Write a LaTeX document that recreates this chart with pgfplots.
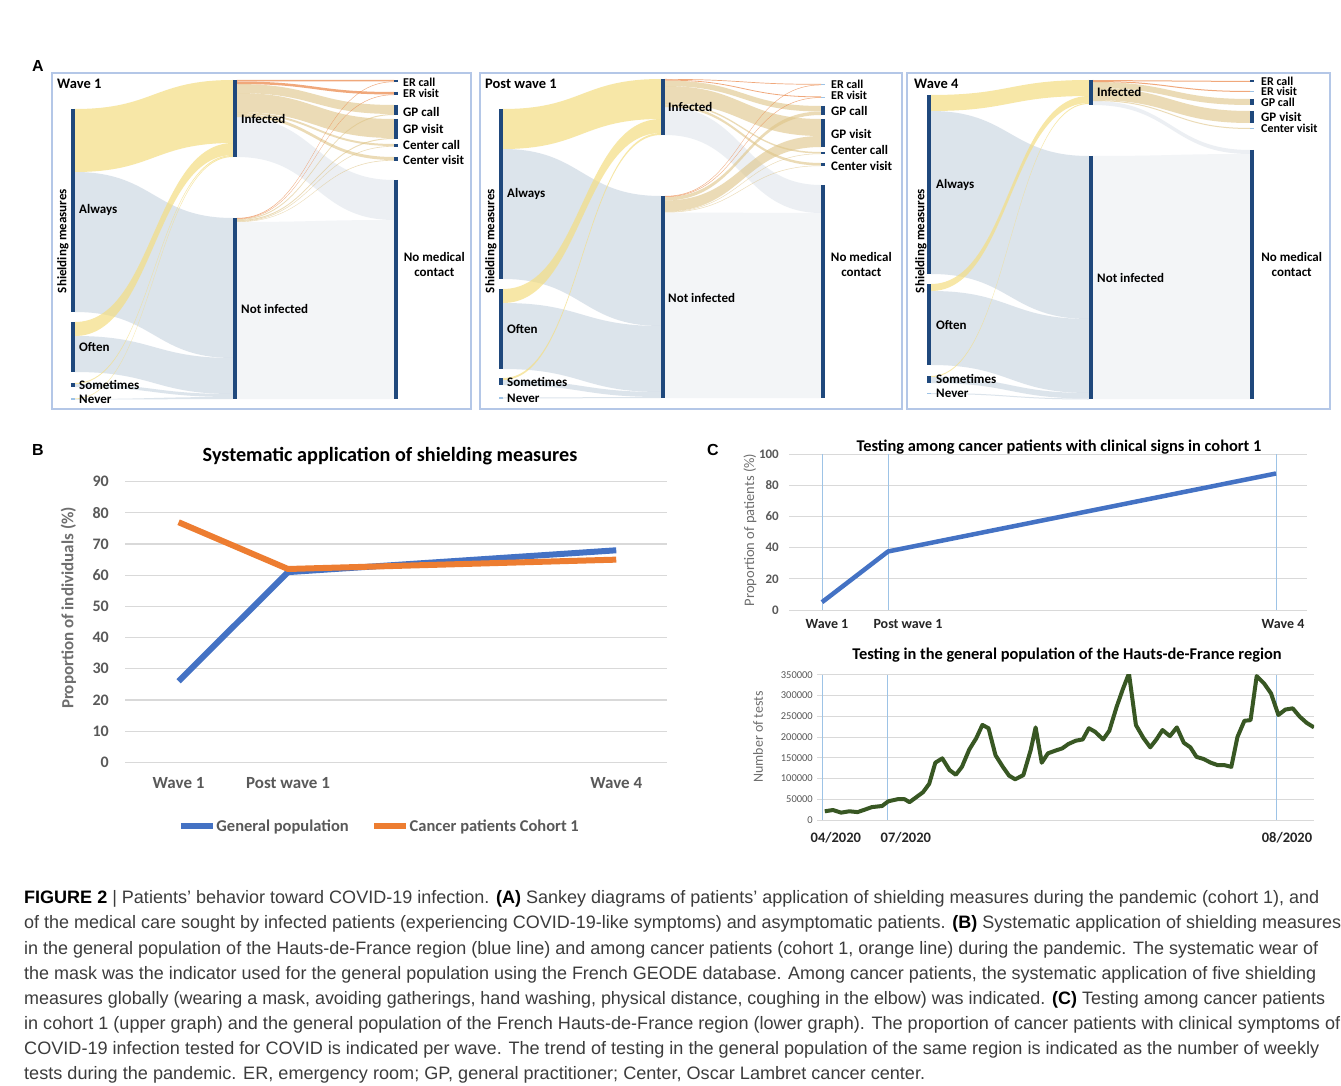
\documentclass[border=0pt]{standalone}
\usepackage{fontspec}
\setmainfont{Carlito}
\newfontfamily\capfont{Liberation Sans}
\usepackage{graphicx}
\usepackage{pgfplots}
\pgfplotsset{compat=1.18}

\definecolor{nodeblue}{RGB}{31,72,124}
\definecolor{flowyel}{RGB}{244,222,130}
\definecolor{flowgrey}{RGB}{200,212,224}
\definecolor{flowlight}{RGB}{228,233,239}
\definecolor{flowlighter}{RGB}{240,243,246}
\definecolor{flowtan}{RGB}{222,196,134}
\definecolor{floworange}{RGB}{236,140,80}
\definecolor{boxblue}{RGB}{180,199,231}
\definecolor{xlblue}{RGB}{68,114,196}
\definecolor{xlorange}{RGB}{237,125,49}
\definecolor{xlgreen}{RGB}{56,87,35}
\definecolor{gridgray}{RGB}{217,217,217}
\definecolor{lblgray}{RGB}{89,89,89}
\definecolor{ylgray}{RGB}{110,110,110}
\definecolor{vline}{RGB}{157,195,230}
\definecolor{capgray}{RGB}{60,60,60}

\tikzset{
 fyel/.style={fill=flowyel, fill opacity=0.7},
 fgry/.style={fill=flowgrey, fill opacity=0.62},
 flt/.style={fill=flowlight, fill opacity=0.7},
 fltt/.style={fill=flowlighter, fill opacity=0.8},
 ftan/.style={fill=flowtan, fill opacity=0.6},
 forg/.style={fill=floworange, fill opacity=0.75},
}

\newcommand\fs[1]{\fontsize{#1}{#1}\selectfont}
% x0 x1 xm y0top y0bot y1top y1bot style
\newcommand\flow[8]{\fill[#8] (axis cs:#1,#4) .. controls (axis cs:#3,#4) and (axis cs:#3,#6) .. (axis cs:#2,#6) -- (axis cs:#2,#7) .. controls (axis cs:#3,#7) and (axis cs:#3,#5) .. (axis cs:#1,#5) -- cycle;}
\newcommand\fA[5]{\flow{75}{233}{154}{#1}{#2}{#3}{#4}{#5}}
\newcommand\fB[5]{\flow{237}{394}{315.5}{#1}{#2}{#3}{#4}{#5}}
\newcommand\fC[5]{\flow{503}{661}{582}{#1}{#2}{#3}{#4}{#5}}
\newcommand\fD[5]{\flow{665}{821}{743}{#1}{#2}{#3}{#4}{#5}}
\newcommand\fE[5]{\flow{931}{1089}{1010}{#1}{#2}{#3}{#4}{#5}}
\newcommand\fF[5]{\flow{1093}{1250}{1171.5}{#1}{#2}{#3}{#4}{#5}}
\newcommand\nbar[3]{\addplot[nodeblue, line width=4pt, forget plot] coordinates {(#1,#2) (#1,#3)};}
\newcommand\nev[3]{\addplot[vline, line width=1.2pt, forget plot] coordinates {(#1,#3) (#2,#3)};}
\newcommand\lab[3]{\node[anchor=west, inner sep=0pt, font=\bfseries\fs{13}] at (axis cs:#1,#2) {#3};}
\newcommand\labs[3]{\node[anchor=west, inner sep=0pt, font=\bfseries\fs{12}] at (axis cs:#1,#2) {#3};}
\newcommand\shield[1]{\node[rotate=90, inner sep=0pt, font=\bfseries\fs{13}] at (axis cs:#1,241) {Shielding measures};}
\newcommand\nomed[1]{\node[align=center, inner sep=0pt, font=\bfseries\fontsize{13}{15.3}\selectfont] at (axis cs:#1,264.5) {No medical\\contact};}
\newcommand\capline[3]{\node[anchor=base west, inner sep=0pt, text=capgray] at (axis cs:24,#1) {\resizebox{#2pt}{\height}{\capfont\fs{18}#3}};}

\begin{document}
\begin{tikzpicture}
\fill[white] (0pt,0pt) rectangle (1341pt,1086pt);
\path[use as bounding box] (0pt,0pt) rectangle (1341pt,1086pt);

% ================= Canvas: Sankey diagrams + texts =================
\begin{axis}[at={(0pt,0pt)}, anchor=south west, scale only axis, width=1341pt, height=1086pt,
  xmin=0, xmax=1341, ymin=0, ymax=1086, y dir=reverse, hide axis, clip=false]
\draw[boxblue, line width=1.2pt] (axis cs:52,73) rectangle (axis cs:471,409);
\draw[boxblue, line width=1.2pt] (axis cs:480,73) rectangle (axis cs:902,409);
\draw[boxblue, line width=1.2pt] (axis cs:907,73) rectangle (axis cs:1330,409);

% ---- Wave 1
\fA{172}{312}{218}{358}{fgry}
\fA{336}{372}{358}{394}{fgry}
\fA{384}{387}{394}{397}{fgry}
\fA{399}{399.6}{397}{399}{fgry}
\fA{109}{172}{80}{143}{fyel}
\fA{322}{336}{143}{155}{fyel}
\fA{383}{384}{155}{156}{fyel}
\fA{398.4}{399}{156}{157}{fyel}
\fB{222}{399}{220}{399}{fltt}
\fB{117}{157}{180}{220}{flt}
\fB{84}{93}{105}{114}{ftan}
\fB{93}{112}{119}{138}{ftan}
\fB{112}{114}{144}{146}{ftan}
\fB{114}{117}{157}{160}{ftan}
\fB{219}{220}{114}{115}{ftan}
\fB{220}{221}{138}{139}{ftan}
\fB{221}{221.6}{146}{146.6}{ftan}
\fB{221.6}{222}{160}{160.6}{ftan}
\fB{80}{81.5}{80}{81.5}{forg}
\fB{81.5}{84}{92}{94.5}{forg}
\fB{218}{218.6}{81.5}{82}{forg}
\fB{218.6}{219}{94.5}{95}{forg}
\nbar{73}{109}{312} \nbar{73}{322}{372} \nbar{73}{383}{387} \nev{71}{75}{399}
\nbar{235}{80}{157} \nbar{235}{218}{399}
\nbar{396}{80}{82} \nbar{396}{92}{95} \nbar{396}{105}{115} \nbar{396}{119}{139}
\nbar{396}{144}{146.6} \nbar{396}{157}{160.6} \nbar{396}{180}{399}

% ---- Post wave 1
\fC{149}{279}{196}{326}{fgry}
\fC{303}{369}{326}{392}{fgry}
\fC{380}{385}{392}{397}{fgry}
\fC{397.5}{398.5}{397}{398}{fgry}
\fC{109}{149}{79}{119}{fyel}
\fC{289}{303}{119}{133}{fyel}
\fC{378}{380}{133}{135}{fyel}
\fD{212.5}{398}{213}{398}{fltt}
\fD{107}{135}{185}{213}{flt}
\fD{80.5}{86}{106}{111.5}{ftan}
\fD{86}{103}{119}{136}{ftan}
\fD{103}{104.5}{152}{153.5}{ftan}
\fD{104.5}{107}{163}{165.5}{ftan}
\fD{197}{200.5}{111.5}{115}{ftan}
\fD{200.5}{211.5}{136}{147}{ftan}
\fD{211.5}{212}{153.5}{154}{ftan}
\fD{212}{212.5}{165.5}{166}{ftan}
\fD{79}{79.7}{84}{84.7}{forg}
\fD{79.7}{80.5}{96.5}{97.3}{forg}
\fD{196}{196.5}{84.7}{85.2}{forg}
\fD{196.5}{197}{97.3}{97.8}{forg}
\nbar{501}{109}{279} \nbar{501}{289}{369} \nbar{501}{378}{385} \nev{499}{503}{398}
\nbar{663}{79}{135} \nbar{663}{196}{398}
\nev{821}{825}{84.6} \nev{821}{825}{97.2} \nbar{823}{106}{115} \nbar{823}{119}{147}
\nbar{823}{152}{154} \nbar{823}{163}{166} \nbar{823}{185}{398}

% ---- Wave 4
\fE{111}{274}{156}{319}{fgry}
\fE{291}{365}{319}{393}{fgry}
\fE{377}{383}{393}{398.5}{fgry}
\fE{393}{394}{398.5}{399.5}{fgry}
\fE{95}{111}{80}{96}{fyel}
\fE{284}{291}{96}{103}{fyel}
\fE{376}{377}{103}{104}{fyel}
\fF{156}{399}{154}{399}{fltt}
\fF{101}{105}{150}{154}{flt}
\fF{82}{88}{99}{105}{ftan}
\fF{88}{100}{111}{123}{ftan}
\fF{100}{101}{128}{129}{ftan}
\fF{80}{81}{81}{82}{forg}
\fF{81}{82}{91}{92}{forg}
\nbar{929}{95}{274} \nbar{929}{284}{365} \nbar{929}{376}{383} \nev{927}{931}{393.5}
\nbar{1091}{80}{105} \nbar{1091}{156}{399}
\nbar{1252}{80.5}{82.5} \nev{1250}{1254}{91.5} \nbar{1252}{99}{105} \nbar{1252}{111}{123}
\nev{1250}{1254}{128.5} \nbar{1252}{150}{399}

% ---- Sankey labels
\node[anchor=west, inner sep=0pt, font=\bfseries\fs{14.5}] at (axis cs:57,84) {Wave 1};
\node[anchor=west, inner sep=0pt, font=\bfseries\fs{14.5}] at (axis cs:485,84) {Post wave 1};
\node[anchor=west, inner sep=0pt, font=\bfseries\fs{14.5}] at (axis cs:914,84) {Wave 4};
\shield{63} \shield{491} \shield{921}
\lab{79}{210}{Always} \lab{79}{347}{Often} \lab{79}{385}{Sometimes} \lab{79}{399}{Never}
\lab{241}{119}{Infected} \lab{241}{308.7}{Not infected}
\labs{403}{82}{ER call} \labs{403}{93}{ER visit} \lab{403}{112.3}{GP call} \lab{403}{129.3}{GP visit}
\lab{403}{144.7}{Center call} \lab{403}{160}{Center visit}
\lab{507}{194}{Always} \lab{507}{329.3}{Often} \lab{507}{382.3}{Sometimes} \lab{507}{398.3}{Never}
\lab{668}{106.7}{Infected} \lab{668}{297.7}{Not infected}
\labs{831}{84.3}{ER call} \labs{831}{95.7}{ER visit} \lab{831}{110.7}{GP call} \lab{831}{134.3}{GP visit}
\lab{831}{150.3}{Center call} \lab{831}{166}{Center visit}
\lab{936}{185}{Always} \lab{936}{325}{Often} \lab{936}{379.3}{Sometimes} \lab{936}{393.3}{Never}
\lab{1097}{92.3}{Infected} \lab{1097}{277.7}{Not infected}
\labs{1261}{81}{ER call} \labs{1261}{91.7}{ER visit} \labs{1261}{102.4}{GP call} \lab{1261}{117}{GP visit}
\labs{1261}{128.5}{Center visit}
\nomed{434.3} \nomed{861.3} \nomed{1291.7}

% ---- panel letters, titles, axis labels
\node[font=\capfont\bfseries\fs{16}] at (axis cs:38,66) {A};
\node[font=\capfont\bfseries\fs{16}] at (axis cs:38,450) {B};
\node[font=\capfont\bfseries\fs{16}] at (axis cs:713,450) {C};
\node[font=\bfseries\fs{20.2}] at (axis cs:390,455.7) {Systematic application of shielding measures};
\node[rotate=90, font=\bfseries\fs{17}, text=ylgray] at (axis cs:68.4,608) {Proportion of individuals (\%)};
\node[font=\bfseries\fs{16.4}] at (axis cs:1059,447) {Testing among cancer patients with clinical signs in cohort 1};
\node[rotate=90, font=\fs{14.5}, text=ylgray] at (axis cs:750,530) {Proportion of patients (\%)};
\node[font=\bfseries\fs{16.4}] at (axis cs:1067,655) {Testing in the general population of the Hauts-de-France region};
\node[rotate=90, font=\fs{14}, text=ylgray] at (axis cs:758,737) {Number of tests};

% ---- caption
\capline{903.8}{1295}{{\color{black}\bfseries FIGURE 2} | Patients’ behavior toward COVID-19 infection. {\color{black}\bfseries (A)} Sankey diagrams of patients’ application of shielding measures during the pandemic (cohort 1), and}
\capline{928.9}{1317}{of the medical care sought by infected patients (experiencing COVID-19-like symptoms) and asymptomatic patients. {\color{black}\bfseries (B)} Systematic application of shielding measures}
\capline{954.0}{1294}{in the general population of the Hauts-de-France region (blue line) and among cancer patients (cohort 1, orange line) during the pandemic. The systematic wear of}
\capline{979.1}{1292}{the mask was the indicator used for the general population using the French GEODE database. Among cancer patients, the systematic application of five shielding}
\capline{1004.2}{1301}{measures globally (wearing a mask, avoiding gatherings, hand washing, physical distance, coughing in the elbow) was indicated. {\color{black}\bfseries (C)} Testing among cancer patients}
\capline{1029.3}{1316}{in cohort 1 (upper graph) and the general population of the French Hauts-de-France region (lower graph). The proportion of cancer patients with clinical symptoms of}
\capline{1054.4}{1295}{COVID-19 infection tested for COVID is indicated per wave. The trend of testing in the general population of the same region is indicated as the number of weekly}
\capline{1079.5}{901}{tests during the pandemic. ER, emergency room; GP, general practitioner; Center, Oscar Lambret cancer center.}
\end{axis}

% ================= Panel B =================
\begin{axis}[at={(125pt,323.7pt)}, anchor=south west, scale only axis, width=542pt, height=280.6pt,
  xmin=-0.49, xmax=4.464, ymin=0, ymax=90,
  axis line style={draw=none}, major tick length=0pt,
  ytick={0,10,...,90}, xtick={0,1,4}, xticklabels={Wave 1,Post wave 1,Wave 4},
  ymajorgrids, grid style={gridgray, line width=1.2pt},
  /pgf/number format/assume math mode=true,
  tick label style={font=\bfseries\fs{16}, text=lblgray, inner sep=0pt},
  yticklabel style={xshift=-16pt},
  xticklabel style={yshift=-15pt, font=\bfseries\fs{17}},
  legend style={at={(axis description cs:0.468,-0.227)}, anchor=center, draw=none, fill=none,
    legend columns=2, font=\bfseries\fs{16.5}, text=lblgray,
    /tikz/every even column/.append style={column sep=22pt}, nodes={inner sep=0.5pt}},
  legend image code/.code={\draw[#1, line width=6pt] (0pt,0pt) -- (32pt,0pt);}]
\addplot[xlblue, line width=6pt, line join=round] coordinates {(0,26) (1,61) (4,68)};
\addlegendentry{General population}
\addplot[xlorange, line width=6pt, line join=round] coordinates {(0,77) (1,62) (4,65)};
\addlegendentry{Cancer patients Cohort 1}
\end{axis}

% ================= Panel C upper =================
\begin{axis}[at={(789pt,476pt)}, anchor=south west, scale only axis, width=518pt, height=156pt,
  xmin=789, xmax=1307, ymin=0, ymax=100,
  axis line style={draw=none}, major tick length=0pt,
  ytick={0,20,...,100}, xtick={827,908,1283}, xticklabels={Wave 1,Post wave 1,Wave 4},
  extra x ticks={822,888,1276}, extra x tick labels={},
  extra x tick style={grid=major, major grid style={vline, line width=0.8pt}},
  ymajorgrids, grid style={gridgray, line width=0.8pt},
  /pgf/number format/assume math mode=true,
  tick label style={inner sep=0pt},
  yticklabel style={font=\bfseries\fs{13}, text=lblgray, xshift=-10pt},
  xticklabel style={font=\bfseries\fs{14}, text=black!85, yshift=-9.5pt}]
\addplot[xlblue, line width=4.5pt, line join=round] coordinates {(822,5) (888,37.5) (1276,87.5)};
\end{axis}

% ================= Panel C lower =================
\begin{axis}[at={(817pt,266pt)}, anchor=south west, scale only axis, width=497pt, height=145.3pt,
  xmin=286, xmax=1500, ymin=0, ymax=350000,
  axis line style={draw=none}, major tick length=0pt,
  ytick={0,50000,100000,150000,200000,250000,300000,350000}, scaled y ticks=false,
  xtick={332,503,1434}, xticklabels={04/2020,07/2020,08/2020},
  extra x ticks={298,459,1408}, extra x tick labels={},
  extra x tick style={grid=major, major grid style={vline, line width=0.8pt}},
  ymajorgrids, grid style={gridgray, line width=0.8pt},
  /pgf/number format/assume math mode=true,
  tick label style={inner sep=0pt},
  yticklabel style={/pgf/number format/fixed, /pgf/number format/1000 sep={}, font=\fs{10.5}, text=lblgray, xshift=-4pt},
  xticklabel style={font=\bfseries\fs{14.5}, text=black!85, yshift=-12pt}]
\addplot[xlgreen, line width=4pt, line join=round] coordinates {
(305,21000) (325,24000) (345,17700) (365,21000) (385,19000) (400,24000) (420,31000) (445,33700)
(460,45000) (485,50500) (500,50000) (512,43000) (530,56000) (545,67000) (560,87000) (575,138000)
(592,148500) (610,120000) (625,109000) (640,128000) (658,170000) (675,197000) (690,229000) (705,221000)
(722,156000) (740,128000) (755,107000) (770,98000) (790,108000) (808,168500) (820,223000) (835,138000)
(850,160500) (868,167000) (885,172500) (900,183000) (918,191000) (935,194000) (950,221000) (965,212700)
(985,194000) (1000,215000) (1018,273000) (1033,315000) (1048,353000) (1065,228700) (1083,198000) (1100,175000)
(1115,194000) (1130,216700) (1148,202000) (1165,223000) (1182,186000) (1198,175000) (1213,152000) (1230,147000)
(1248,138000) (1265,132000) (1282,132000) (1298,128000) (1313,200000) (1330,239000) (1345,240500) (1360,346700)
(1378,329000) (1395,305000) (1413,253000) (1430,266000) (1448,269000) (1465,249000) (1482,234000) (1500,223000)};
\end{axis}
\end{tikzpicture}
\end{document}
